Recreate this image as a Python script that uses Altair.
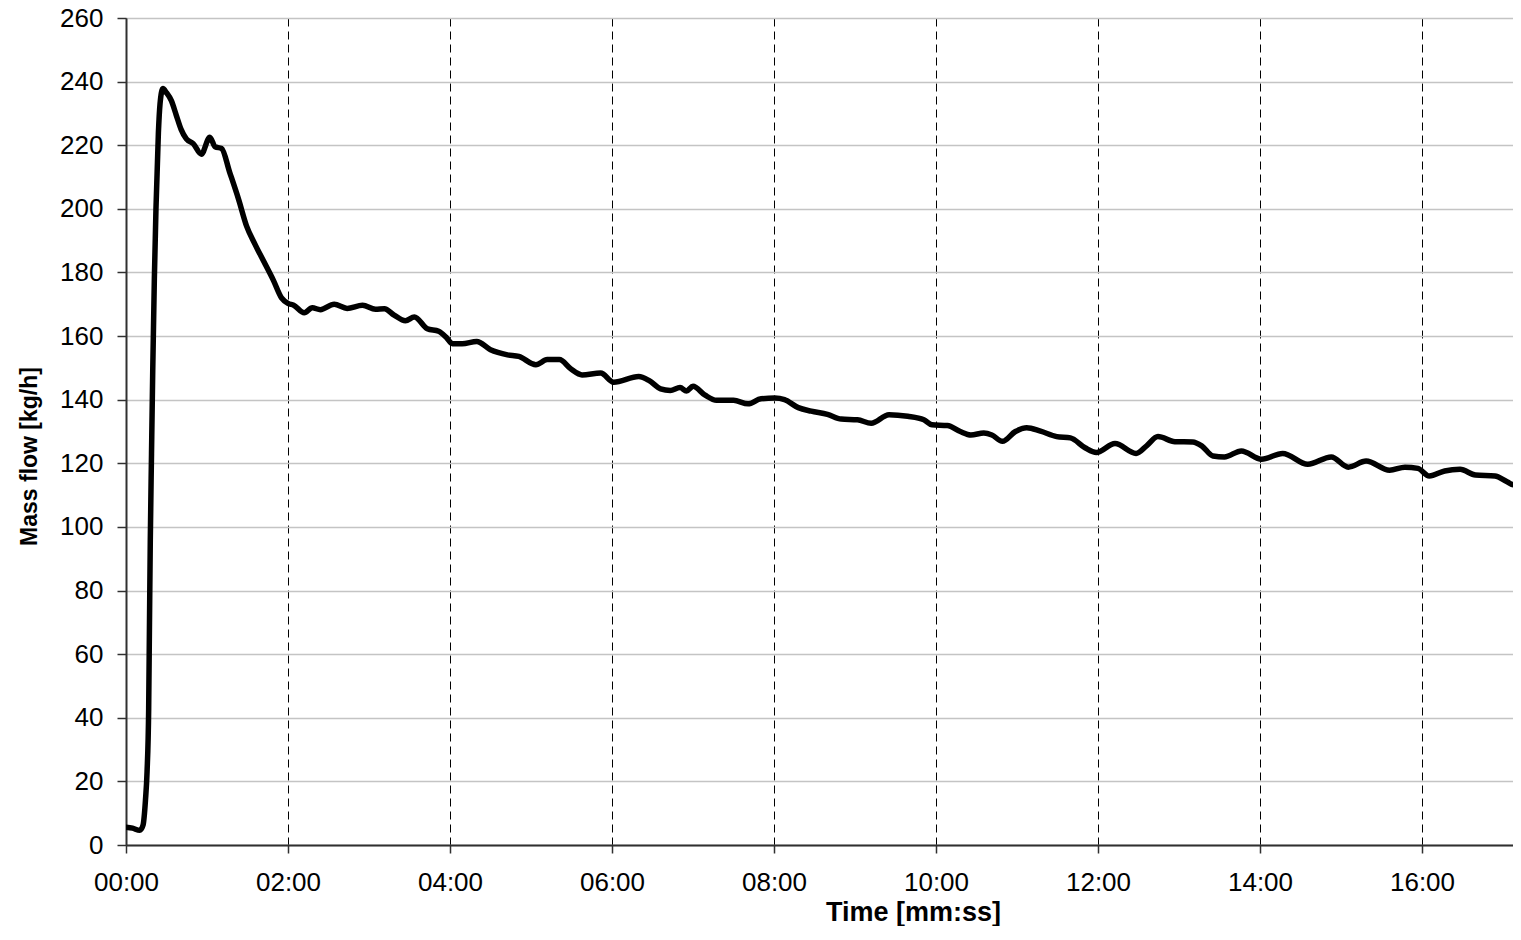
import altair as alt
import pandas as pd

# Time in minutes, mass flow in kg/h
time_min = [0.00, 0.08, 0.17, 0.21, 0.24, 0.26, 0.28, 0.29, 0.30, 0.315, 0.33, 0.35, 0.37, 0.40,
            0.42, 0.455, 0.50, 0.56, 0.62, 0.68, 0.745, 0.83, 0.93, 1.035, 1.10, 1.18, 1.28, 1.39,
            1.49, 1.59, 1.70, 1.82, 1.92, 2.00, 2.07, 2.20, 2.30, 2.40, 2.57, 2.73, 2.92, 3.08,
            3.19, 3.31, 3.45, 3.56, 3.72, 3.86, 3.95, 4.03, 4.15, 4.33, 4.50, 4.71, 4.85, 5.06,
            5.20, 5.35, 5.49, 5.63, 5.86, 6.02, 6.33, 6.46, 6.60, 6.72, 6.84, 6.92, 7.00, 7.15,
            7.29, 7.50, 7.68, 7.84, 8.01, 8.13, 8.30, 8.46, 8.66, 8.83, 9.03, 9.20, 9.42, 9.65,
            9.85, 9.95, 10.14, 10.30, 10.43, 10.59, 10.69, 10.82, 10.98, 11.12, 11.29, 11.49,
            11.66, 11.84, 11.98, 12.21, 12.47, 12.60, 12.74, 12.95, 13.17, 13.28, 13.42, 13.56,
            13.77, 14.02, 14.28, 14.59, 14.88, 15.09, 15.31, 15.60, 15.79, 15.95, 16.09, 16.28,
            16.47, 16.66, 16.90, 17.05, 17.14, 17.22]
mass_flow = [5.6, 5.3, 4.6, 6.2, 14, 23, 43, 70, 96, 123, 149, 178, 200, 224,
             233, 237.8, 236.5, 234, 229.5, 225, 222, 220.5, 217.2, 222.5, 219.5, 219, 211.5, 203,
             194.5, 189, 183.5, 177.5, 172, 170.3, 169.7, 167.3, 168.9, 168.3, 170, 168.7, 169.7, 168.4,
             168.6, 166.6, 164.8, 166, 162.3, 161.5, 159.7, 157.6, 157.6, 158.3, 155.7, 154.1, 153.6, 151,
             152.6, 152.6, 149.7, 147.8, 148.4, 145.5, 147.3, 146, 143.4, 142.9, 143.8, 142.7, 144.2, 141.4,
             139.8, 139.8, 138.7, 140.3, 140.5, 140, 137.5, 136.4, 135.4, 133.9, 133.7, 132.6, 135.3, 134.8,
             133.7, 132.1, 131.9, 130, 128.9, 129.5, 128.9, 126.9, 130, 131.2, 130.1, 128.4,
             128, 124.9, 123.4, 126.2, 123.1, 125.5, 128.4, 126.8, 126.7, 125.5, 122.3, 122,
             123.9, 121.3, 123.1, 119.7, 122, 118.8, 120.7, 117.8, 118.8, 118.4, 116, 117.6,
             118.1, 116.3, 116, 114.2, 113.2, 114.6]

x_ticks = [0, 2, 4, 6, 8, 10, 12, 14, 16]
y_ticks = [0, 20, 40, 60, 80, 100, 120, 140, 160, 180, 200, 220, 240, 260]

df = pd.DataFrame({"t": time_min, "v": mass_flow})

FONT = "Liberation Sans"
PLOT_W = 1387
X_END = PLOT_W / 81.0  # 81 px per minute, as in the reference

chart = alt.Chart(df).mark_line(
    color="#000000", strokeWidth=5.5, interpolate="monotone", strokeJoin="round",
    strokeCap="round", clip=True
).encode(
    x=alt.X("t:Q",
            scale=alt.Scale(domain=[0, X_END], nice=False, zero=False),
            axis=alt.Axis(
                values=x_ticks,
                labelExpr="(datum.value < 10 ? '0' : '') + datum.value + ':00'",
                title="Time [mm:ss]",
                titleFont=FONT, titleFontSize=27, titleFontWeight="bold", titleColor="#000",
                titleX=787, titleY=67, titleBaseline="middle", titleAlign="center",
                labelFont=FONT, labelFontSize=26, labelColor="#000",
                labelPadding=16, labelBaseline="top",
                tickSize=8, tickColor="#303030", tickWidth=1.5,
                domainColor="#303030", domainWidth=2,
                grid=True, gridColor="#000000", gridDash=[8, 5], gridWidth=1,
                labelFlush=False, labelOverlap=False,
            )),
    y=alt.Y("v:Q",
            scale=alt.Scale(domain=[0, 260], nice=False),
            axis=alt.Axis(
                values=y_ticks,
                title="Mass flow [kg/h]",
                titleFont=FONT, titleFontSize=23, titleFontWeight="bold", titleColor="#000",
                titleX=-97, titleY=438, titleBaseline="middle", titleAlign="center", titleAngle=270,
                labelFont=FONT, labelFontSize=26, labelColor="#000",
                labelPadding=14,
                tickSize=9, tickColor="#303030", tickWidth=1.5,
                domainColor="#303030", domainWidth=2,
                grid=True, gridColor="#c4c4c4", gridWidth=1.5,
                labelFlush=False, labelOverlap=False,
            )),
).properties(
    width=PLOT_W, height=827,
    autosize=alt.AutoSizeParams(type="none"),
    padding={"left": 118, "top": 10, "right": 0, "bottom": 81},
).configure_view(stroke=None).configure(background="white")

chart.save("out.html", embed_options={"renderer": "svg", "actions": False})
